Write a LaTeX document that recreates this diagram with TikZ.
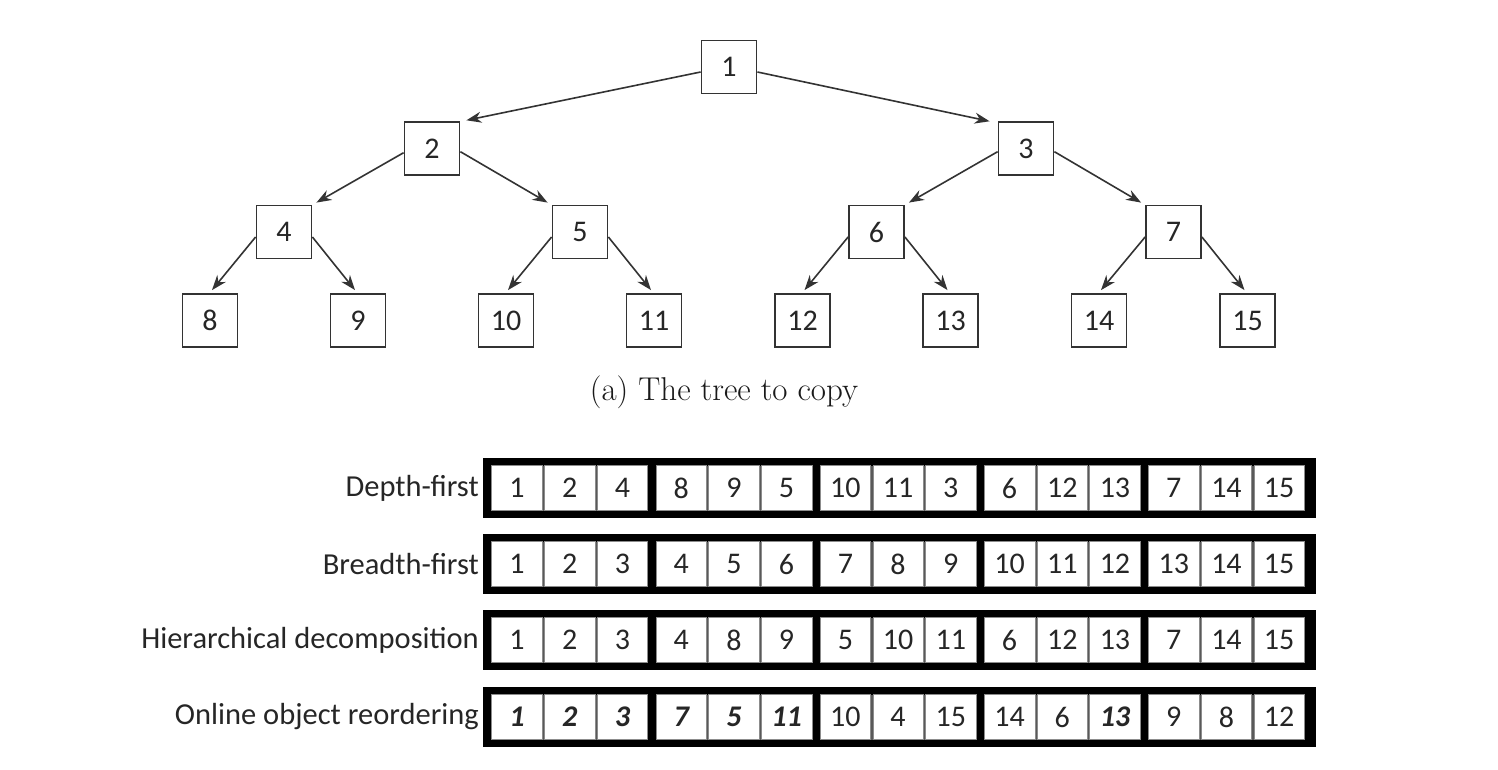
\documentclass[tikz,border=0pt]{standalone}
\usepackage{fontspec}
\newfontfamily\carl{Carlito}
\usetikzlibrary{arrows.meta,calc}
\begin{document}
\begin{tikzpicture}[x=1pt,y=-1pt,
  tnode/.style={draw=black!80, line width=1.8pt, minimum width=55pt, minimum height=53pt, inner sep=0pt, font=\carl\fontsize{30}{34}\selectfont, text=black!85},
  edge/.style={draw=black!80, line width=1.6pt, -{Stealth[length=15pt,width=11pt]}},
  rowbox/.style={fill=black, draw=none, minimum width=833pt, minimum height=60pt, inner sep=0pt},
  cellbox/.style={fill=white, draw=black!45, line width=0.6pt, minimum width=50.5pt, minimum height=45pt, inner sep=0pt, font=\carl\fontsize{30}{34}\selectfont, text=black!85},
  rowlabel/.style={anchor=east, inner sep=0pt, font=\carl\fontsize{30.5}{34}\selectfont, text=black!85},
  captext/.style={font=\fontsize{33}{38}\selectfont, text=black!90}
]
\useasboundingbox (0,0) rectangle (1498,770);

% ---------- tree ----------
\node[tnode] (n1) at (729,67) {1};
\node[tnode] (n2) at (432,148.7) {2};
\node[tnode] (n3) at (1026,148.7) {3};
\node[tnode] (n4) at (284,232) {4};
\node[tnode] (n5) at (580,232) {5};
\node[tnode] (n6) at (876.5,232) {6};
\node[tnode] (n7) at (1173.5,232) {7};
\node[tnode] (n8) at (210,320.5) {8};
\node[tnode] (n9) at (358,320.5) {9};
\node[tnode] (n10) at (506,320.5) {10};
\node[tnode] (n11) at (654,320.5) {11};
\node[tnode] (n12) at (802.5,320.5) {12};
\node[tnode] (n13) at (950.5,320.5) {13};
\node[tnode] (n14) at (1099,320.5) {14};
\node[tnode] (n15) at (1247.5,320.5) {15};

\draw[edge] ($(n1.west)+(0,5)$) -- ($(n2.north east)+(6,-1)$);
\draw[edge] ($(n1.east)+(0,5)$) -- ($(n3.north west)+(-8,0)$);
\draw[edge] ($(n2.west)+(0,4)$) -- ($(n4.north east)+(4,-2)$);
\draw[edge] ($(n2.east)+(0,3)$) -- ($(n5.north west)+(-4,-2)$);
\draw[edge] ($(n3.west)+(0,3)$) -- ($(n6.north east)+(4,-2)$);
\draw[edge] ($(n3.east)+(0,3)$) -- ($(n7.north west)+(-4,-2)$);
\foreach \p/\l/\r in {n4/n8/n9, n5/n10/n11, n6/n12/n13, n7/n14/n15}{
  \draw[edge] ($(\p.west)+(0,5)$) -- ($(\l.north)+(2,-3)$);
  \draw[edge] ($(\p.east)+(0,5)$) -- ($(\r.north)+(-3,-3)$);
}

\node[captext] (cap) at (724,392) {(a) The tree to copy};

% ---------- sequences ----------
\newcommand{\seqrow}[4]{% #1 name, #2 y, #3 label, #4 list
  \node[rowbox] (#1) at (899.5,#2) {};
  \foreach \g in {0,...,4}{
    \fill[black!65] (491.7+\g*164.2,#2-22.5) rectangle (647.6+\g*164.2,#2+22.5);
  }
  \foreach \v [count=\i from 0] in {#4}{
    \pgfmathtruncatemacro{\gg}{int(\i/3)}
    \pgfmathtruncatemacro{\kk}{mod(\i,3)}
    \pgfmathsetmacro{\cx}{491.7+25.25+\gg*164.2+\kk*52.7}
    \node[cellbox] (#1c\i) at (\cx,#2) {\v};
  }
  \node[rowlabel] (#1lab) at (479,#2) {#3};
}
\newcommand{\bi}[1]{{\bfseries\itshape #1}}

\seqrow{rA}{488}{Depth-first}{1,2,4,8,9,5,10,11,3,6,12,13,7,14,15}
\seqrow{rB}{564}{Breadth-first}{1,2,3,4,5,6,7,8,9,10,11,12,13,14,15}
\seqrow{rC}{640}{Hierarchical decomposition}{1,2,3,4,8,9,5,10,11,6,12,13,7,14,15}
\seqrow{rD}{717}{Online object reordering}{\bi{1},\bi{2},\bi{3},\bi{7},\bi{5},\bi{11},10,4,15,14,6,\bi{13},9,8,12}
\end{tikzpicture}
\end{document}
